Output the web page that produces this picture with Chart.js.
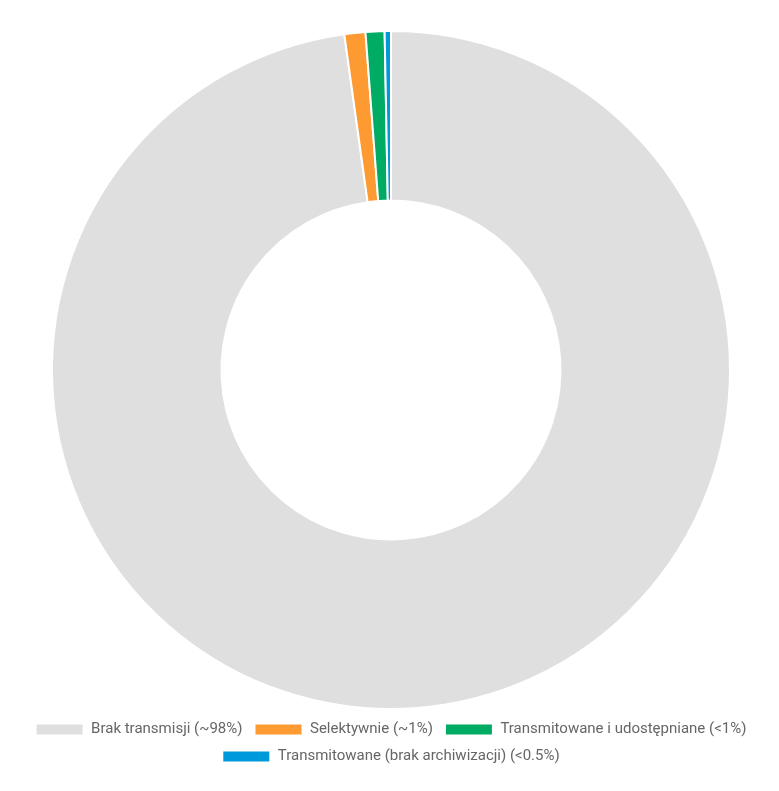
<!DOCTYPE html>
<html>
<head>
<meta charset="utf-8">
<script src="https://cdn.jsdelivr.net/npm/chart.js@4/dist/chart.umd.min.js"></script>
<style>
  html, body { margin: 0; padding: 0; background: #fff; }
  #wrap { width: 779px; height: 791px; }
</style>
</head>
<body>
<div id="wrap"><canvas id="myChartDoughnut"></canvas></div>
<script>
// slice labels and shares
const labels = [
    'Brak transmisji (~98%)',
    'Selektywnie (~1%)',
    'Transmitowane i udostępniane (<1%)',
    'Transmitowane (brak archiwizacji) (<0.5%)'
]
const shares = [97.8, 1.0, 0.9, 0.3]
const colors = ['#dfdfdf', '#fd9a32', '#00ab63', '#0099da']

const ctxD = document.getElementById('myChartDoughnut').getContext('2d');
const dataDoughnut = {
    labels: labels,
    datasets: [{
        data: shares,
        backgroundColor: colors,
        borderColor: '#ffffff',
        borderWidth: 2,
        hoverOffset: 0
    }]
};
const configD = {
    type: 'doughnut',
    data: dataDoughnut,
    options: {
        responsive: true,
        maintainAspectRatio: false,
        animation: false,
        cutout: '50%',
        layout: {
            padding: { top: 30, bottom: 17, left: 13, right: 10 }
        },
        plugins: {
            tooltip: { enabled: false },
            legend: {
                position: 'bottom',
                labels: {
                    color: '#666',
                    boxWidth: 48,
                    boxHeight: 12,
                    padding: 12,
                    font: { family: 'Roboto', size: 15 }
                }
            }
        }
    },
};
const myChartD = new Chart(ctxD, configD)
</script>
</body>
</html>
